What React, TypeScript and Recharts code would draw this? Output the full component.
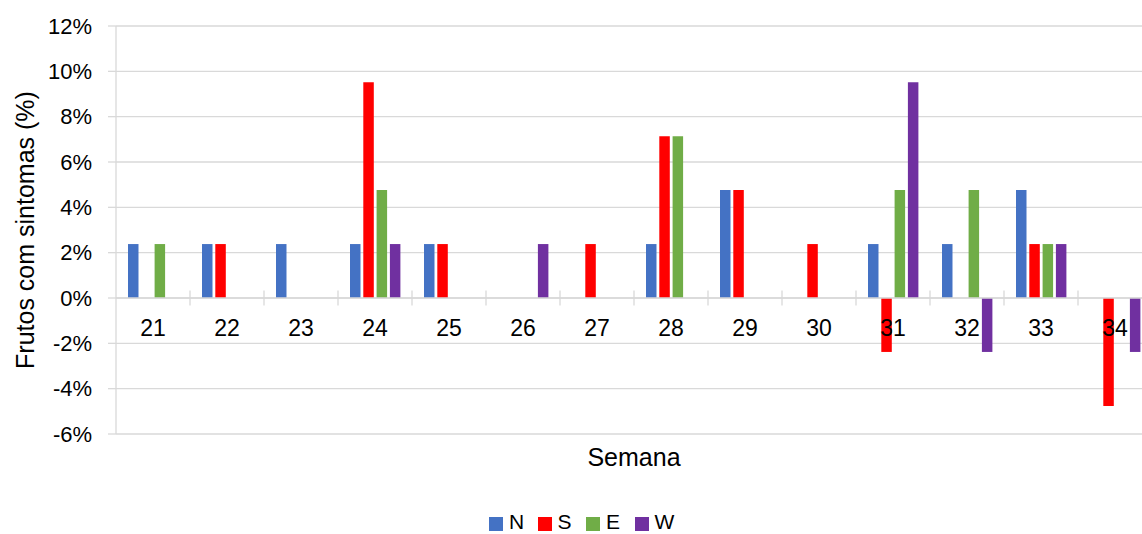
import { Bar, BarChart, CartesianGrid, XAxis, YAxis, ReferenceLine, ReferenceDot, ReferenceArea } from 'recharts';

const weeks = ['21', '22', '23', '24', '25', '26', '27', '28', '29', '30', '31', '32', '33', '34'];
const north = [2.38, 2.38, 2.38, 2.38, 2.38, 0, 0, 2.38, 4.76, 0, 2.38, 2.38, 4.76, 0];
const south = [0, 2.38, 0, 9.52, 2.38, 0, 2.38, 7.14, 4.76, 2.38, -2.38, 0, 2.38, -4.76];
const east = [2.38, 0, 0, 4.76, 0, 0, 0, 7.14, 0, 0, 4.76, 4.76, 2.38, 0];
const west = [0, 0, 0, 2.38, 0, 2.38, 0, 0, 0, 0, 9.52, -2.38, 2.38, -2.38];
const yTicks = [-6, -4, -2, 0, 2, 4, 6, 8, 10, 12];

const series = [
  { key: 'N', color: '#4472C4' },
  { key: 'S', color: '#FF0000' },
  { key: 'E', color: '#70AD47' },
  { key: 'W', color: '#7030A0' },
];

const data = weeks.map((week, i) => ({
  week,
  N: north[i],
  S: south[i],
  E: east[i],
  W: west[i],
}));

const FONT = '"Liberation Sans", Arial, sans-serif';
const GRID = '#d9d9d9';

// small tick crossing the zero axis at the left edge of each week band
const BandTick = (p: any) => (
  <line x1={p.x} x2={p.x} y1={p.y} y2={p.y + p.height} stroke={GRID} strokeWidth={1.3} />
);

export default function App() {
  return (
    <div
      style={{
        position: 'absolute',
        left: 0,
        top: 0,
        width: 1142,
        height: 534,
        overflow: 'hidden',
        background: '#fff',
        fontFamily: FONT,
      }}
    >
      <BarChart
        width={1162}
        height={534}
        data={data}
        margin={{ top: 26, right: 10, left: 0, bottom: 60 }}
        barSize={10.5}
        barGap={2.8}
      >
        <CartesianGrid vertical={false} stroke={GRID} strokeWidth={1.3} />
        <XAxis
          dataKey="week"
          height={40}
          tick={false}
          axisLine={false}
          tickLine={false}
          label={{ value: 'Semana', position: 'insideTop', offset: 14, fill: '#000', fontSize: 25, fontFamily: FONT }}
        />
        <YAxis
          width={116}
          domain={[-6, 12]}
          ticks={yTicks}
          interval={0}
          tickFormatter={(v) => `${v}%`}
          tick={{ fill: '#000', fontSize: 22, fontFamily: FONT }}
          axisLine={{ stroke: GRID, strokeWidth: 1.3 }}
          tickLine={{ stroke: GRID, strokeWidth: 1.3 }}
          tickSize={8}
          tickMargin={16}
          label={{
            value: 'Frutos com sintomas (%)',
            angle: -90,
            position: 'insideLeft',
            offset: 25,
            fill: '#000',
            fontSize: 25,
            fontFamily: FONT,
            style: { textAnchor: 'middle' },
          }}
        />
        <ReferenceLine y={0} stroke={GRID} strokeWidth={1.3} />
        {weeks.slice(1).map((w) => (
          <ReferenceArea key={`t${w}`} x1={w} x2={w} y1={-0.33} y2={0.33} shape={BandTick} />
        ))}
        {series.map((s) => (
          <Bar key={s.key} dataKey={s.key} fill={s.color} isAnimationActive={false} />
        ))}
        {weeks.map((w) => (
          <ReferenceDot
            key={`l${w}`}
            x={w}
            y={0}
            r={0}
            fill="none"
            stroke="none"
            label={{ value: w, position: 'bottom', offset: 22, fill: '#000', fontSize: 23, fontFamily: FONT }}
          />
        ))}
      </BarChart>
      <div
        style={{
          position: 'absolute',
          left: 489,
          top: 510,
          height: 24,
          display: 'flex',
          alignItems: 'center',
          fontSize: 21,
          lineHeight: '24px',
          color: '#000',
        }}
      >
        {series.map((s) => (
          <div key={s.key} style={{ display: 'flex', alignItems: 'center', width: 48.5 }}>
            <span
              style={{
                display: 'inline-block',
                width: 14,
                height: 14,
                background: s.color,
                marginRight: 6,
                position: 'relative',
                top: 2,
              }}
            />
            <span>{s.key}</span>
          </div>
        ))}
      </div>
    </div>
  );
}
